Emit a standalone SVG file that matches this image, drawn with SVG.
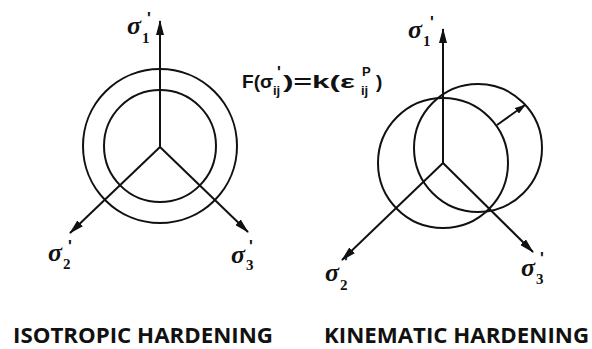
<svg xmlns="http://www.w3.org/2000/svg" width="592" height="349" viewBox="0 0 592 349">
<defs>
<marker id="ah" markerWidth="15" markerHeight="8" refX="14" refY="4" orient="auto" markerUnits="userSpaceOnUse">
<path d="M0,0 L15,4 L0,8 z" fill="#111"/>
</marker>
<marker id="ahs" markerWidth="11" markerHeight="7" refX="10" refY="3.5" orient="auto" markerUnits="userSpaceOnUse">
<path d="M0,0 L11,3.5 L0,7 z" fill="#111"/>
</marker>
<style>
.c{fill:none;stroke:#111;stroke-width:2}
.ax{fill:none;stroke:#111;stroke-width:2;marker-end:url(#ah)}
.sg{font-family:"Liberation Serif",serif;font-style:italic;font-weight:bold;font-size:26px;fill:#111}
.sb{font-family:"Liberation Serif",serif;font-weight:bold;font-size:15px;fill:#111}
.pr{font-family:"Liberation Sans",sans-serif;font-weight:bold;font-size:16px;fill:#111}
.f{font-family:"Liberation Sans",sans-serif;font-weight:bold;font-size:19px;fill:#111}
.fs{font-family:"Liberation Sans",sans-serif;font-weight:bold;font-size:13px;fill:#111}
.t{font-family:"Open Sans","Liberation Sans",sans-serif;font-weight:bold;font-size:22px;fill:#111}
</style>
</defs>
<g id="isotropic">
<circle class="c" cx="160" cy="146" r="77"/>
<circle class="c" cx="160" cy="146" r="56"/>
</g>
<g id="kinematic">
<circle class="c" cx="443" cy="163" r="65"/>
<circle class="c" cx="478" cy="148" r="64"/>
</g>
<g id="connectors">
<line class="ax" x1="160" y1="147" x2="160" y2="21"/>
<line class="ax" x1="160" y1="147" x2="70" y2="233"/>
<line class="ax" x1="160" y1="147" x2="248" y2="232"/>
<line class="ax" x1="443" y1="163" x2="443" y2="29"/>
<line class="ax" x1="443" y1="163" x2="342" y2="260"/>
<line class="ax" x1="443" y1="163" x2="533" y2="252"/>
<line x1="497" y1="125" x2="525" y2="105" stroke="#111" stroke-width="2" marker-end="url(#ahs)"/>
</g>
<g id="labels-left">
<text class="sg" x="127" y="34">σ</text><text class="sb" x="142" y="43">1</text><text class="pr" x="147" y="24">'</text>
<text class="sg" x="48" y="261">σ</text><text class="sb" x="63" y="269">2</text><text class="pr" x="68" y="252">'</text>
<text class="sg" x="231" y="263">σ</text><text class="sb" x="246" y="270">3</text><text class="pr" x="249" y="252">'</text>
</g>
<g id="labels-right">
<text class="sg" x="408" y="38">σ</text><text class="sb" x="423" y="46">1</text><text class="pr" x="430" y="28">'</text>
<text class="sg" x="325" y="281">σ</text><text class="sb" x="340" y="290">2</text><text class="pr" x="344" y="268">'</text>
<text class="sg" x="521" y="276">σ</text><text class="sb" x="536" y="284">3</text><text class="pr" x="540" y="264">'</text>
</g>
<g id="formula">
<text class="f" x="242" y="88" textLength="31" lengthAdjust="spacingAndGlyphs">F(σ</text>
<text class="pr" x="277" y="78">'</text>
<text class="fs" x="273" y="95">ij</text>
<text class="f" x="283" y="88" textLength="72" lengthAdjust="spacingAndGlyphs">)=k(ε</text>
<text class="fs" x="362" y="76">P</text>
<text class="fs" x="361" y="95">ij</text>
<text class="f" x="376" y="88">)</text>
</g>
<g id="titles">
<text class="t" x="13" y="343" textLength="260" lengthAdjust="spacingAndGlyphs">ISOTROPIC HARDENING</text>
<text class="t" x="324" y="343" textLength="265" lengthAdjust="spacingAndGlyphs">KINEMATIC HARDENING</text>
</g>
</svg>
